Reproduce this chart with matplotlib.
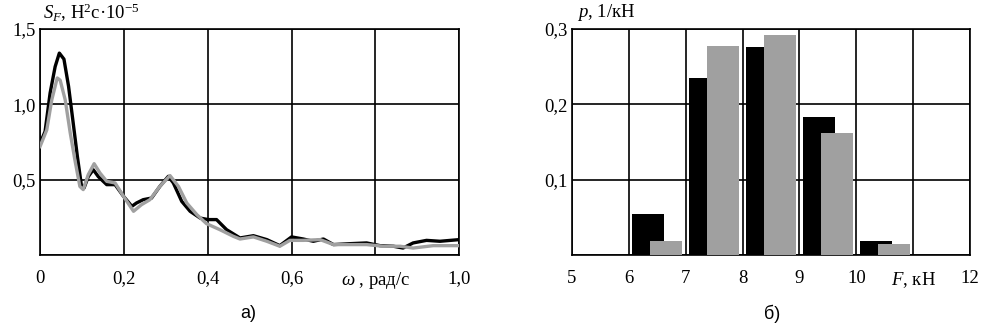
import matplotlib.pyplot as plt

plt.rcParams['font.family'] = ['Liberation Serif', 'DejaVu Serif']
plt.rcParams['mathtext.fontset'] = 'custom'
plt.rcParams['mathtext.it'] = 'Liberation Serif:italic'
plt.rcParams['mathtext.rm'] = 'Liberation Serif'

# спектральная плотность, две кривые
w_black = [0, 0.012, 0.024, 0.036, 0.046, 0.057, 0.068, 0.078, 0.089, 0.099, 0.105,
           0.115, 0.127, 0.139, 0.159, 0.179, 0.199, 0.219, 0.23, 0.246, 0.266, 0.286,
           0.306, 0.318, 0.338, 0.358, 0.382, 0.401, 0.421, 0.445, 0.477, 0.509, 0.541,
           0.572, 0.6, 0.628, 0.652, 0.676, 0.7, 0.739, 0.779, 0.811, 0.843, 0.866,
           0.89, 0.922, 0.954, 1.0]
s_black = [0.74, 0.82, 1.075, 1.25, 1.34, 1.30, 1.12, 0.90, 0.655, 0.455, 0.445,
           0.52, 0.566, 0.52, 0.467, 0.467, 0.39, 0.323, 0.345, 0.367, 0.378, 0.456,
           0.522, 0.478, 0.356, 0.29, 0.245, 0.235, 0.235, 0.168, 0.113, 0.128, 0.102,
           0.062, 0.12, 0.106, 0.091, 0.106, 0.069, 0.075, 0.08, 0.062, 0.058, 0.046,
           0.08, 0.097, 0.091, 0.102]
w_gray = [0, 0.016, 0.028, 0.041, 0.048, 0.06, 0.072, 0.083, 0.095, 0.103, 0.115,
          0.129, 0.143, 0.159, 0.179, 0.199, 0.223, 0.242, 0.262, 0.286, 0.31, 0.33,
          0.35, 0.374, 0.397, 0.429, 0.461, 0.477, 0.509, 0.541, 0.572, 0.596, 0.628,
          0.668, 0.7, 0.779, 0.819, 0.859, 0.89, 0.938, 1.0]
s_gray = [0.72, 0.83, 1.03, 1.175, 1.16, 1.03, 0.81, 0.633, 0.455, 0.434, 0.533,
          0.606, 0.544, 0.489, 0.478, 0.39, 0.29, 0.334, 0.367, 0.456, 0.527, 0.456,
          0.345, 0.268, 0.208, 0.168, 0.124, 0.106, 0.12, 0.091, 0.058, 0.097, 0.097,
          0.102, 0.069, 0.069, 0.058, 0.058, 0.046, 0.062, 0.062]

# гистограмма
bins = [6, 7, 8, 9, 10]
p_black = [0.054, 0.235, 0.276, 0.183, 0.019]
p_gray = [0.019, 0.278, 0.292, 0.162, 0.015]

w_ticks = [0, 0.2, 0.4, 0.6, 0.8, 1.0]
w_labels = ['0', '0,2', '0,4', '0,6', r'$\omega$ , рад/с', '1,0']
s_ticks = [0, 0.5, 1.0, 1.5]
s_labels = ['', '0,5', '1,0', '1,5']
f_ticks = [5, 6, 7, 8, 9, 10, 11, 12]
f_labels = ['5', '6', '7', '8', '9', '10', r'$F$, кН', '12']
p_ticks = [0, 0.1, 0.2, 0.3]
p_labels = ['', '0,1', '0,2', '0,3']

GRAY = '#a0a0a0'
fs = 13.5

fig = plt.figure(figsize=(9.84, 3.28), dpi=100)
ax1 = fig.add_axes([0.0407, 0.2226, 0.426, 0.689])
ax2 = fig.add_axes([0.5813, 0.2226, 0.4045, 0.689])

ax1.plot(w_black, s_black, color='black', lw=2.4, zorder=3)
ax1.plot(w_gray, s_gray, color=GRAY, lw=2.4, zorder=4)
ax1.set_xlim(0, 1.0)
ax1.set_ylim(0, 1.5)
ax1.set_xticks(w_ticks)
ax1.set_xticklabels(w_labels)
ax1.set_yticks(s_ticks)
ax1.set_yticklabels(s_labels)

for b, h in zip(bins, p_black):
    ax2.bar(b + 0.06, h, width=0.56, align='edge', color='black', zorder=3)
for b, h in zip(bins, p_gray):
    ax2.bar(b + 0.38, h, width=0.56, align='edge', color=GRAY, zorder=4)
ax2.set_xlim(5, 12)
ax2.set_ylim(0, 0.3)
ax2.set_xticks(f_ticks)
ax2.set_xticklabels(f_labels)
ax2.set_yticks(p_ticks)
ax2.set_yticklabels(p_labels)

for ax in (ax1, ax2):
    ax.grid(True, color='black', lw=1.2, zorder=1)
    ax.tick_params(length=0, labelsize=fs)
    ax.tick_params(axis='x', pad=11)
    ax.tick_params(axis='y', pad=3)
    for sp in ax.spines.values():
        sp.set_linewidth(1.2)

fig.text(0.044, 0.962, r'$S_F$, Н$^2$с·10$^{-5}$', fontsize=fs, va='center', ha='left')
fig.text(0.586, 0.962, r'$p$, 1/кН', fontsize=fs, va='center', ha='left')
fig.text(0.252, 0.043, 'а)', fontsize=13, family='Liberation Sans', ha='center', va='center')
fig.text(0.785, 0.043, 'б)', fontsize=13, family='Liberation Sans', ha='center', va='center')

fig.savefig('out.png', dpi=100)
